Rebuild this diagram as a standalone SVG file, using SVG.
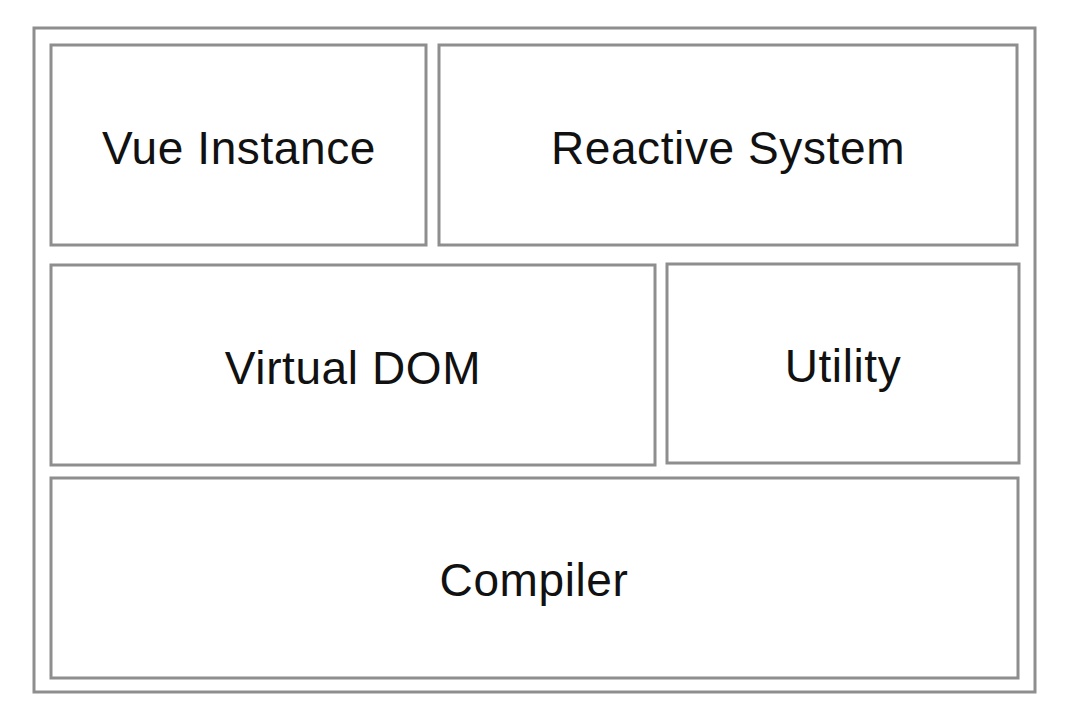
<svg xmlns="http://www.w3.org/2000/svg" width="1076" height="722" viewBox="0 0 1076 722">
<style>
rect{fill:#fff;stroke:#8e8e8e;stroke-width:3}
text{font-family:"Liberation Sans",Arial,sans-serif;font-size:46px;letter-spacing:0.6px;fill:#111;text-anchor:middle;dominant-baseline:central}
</style>
<rect x="0" y="0" width="1076" height="722" style="stroke:none"/>
<g id="outer"><rect x="34" y="28" width="1001" height="664"/></g>
<g id="vue"><rect x="51" y="45" width="375" height="200"/><text x="239" y="148">Vue Instance</text></g>
<g id="reactive"><rect x="439" y="45" width="578" height="200"/><text x="728" y="148">Reactive System</text></g>
<g id="vdom"><rect x="51" y="265" width="604" height="200"/><text x="353" y="368">Virtual DOM</text></g>
<g id="utility"><rect x="667" y="264" width="352" height="199"/><text x="843" y="366">Utility</text></g>
<g id="compiler"><rect x="51" y="478" width="967" height="200"/><text x="534" y="580">Compiler</text></g>
<g id="connectors"/>
</svg>
